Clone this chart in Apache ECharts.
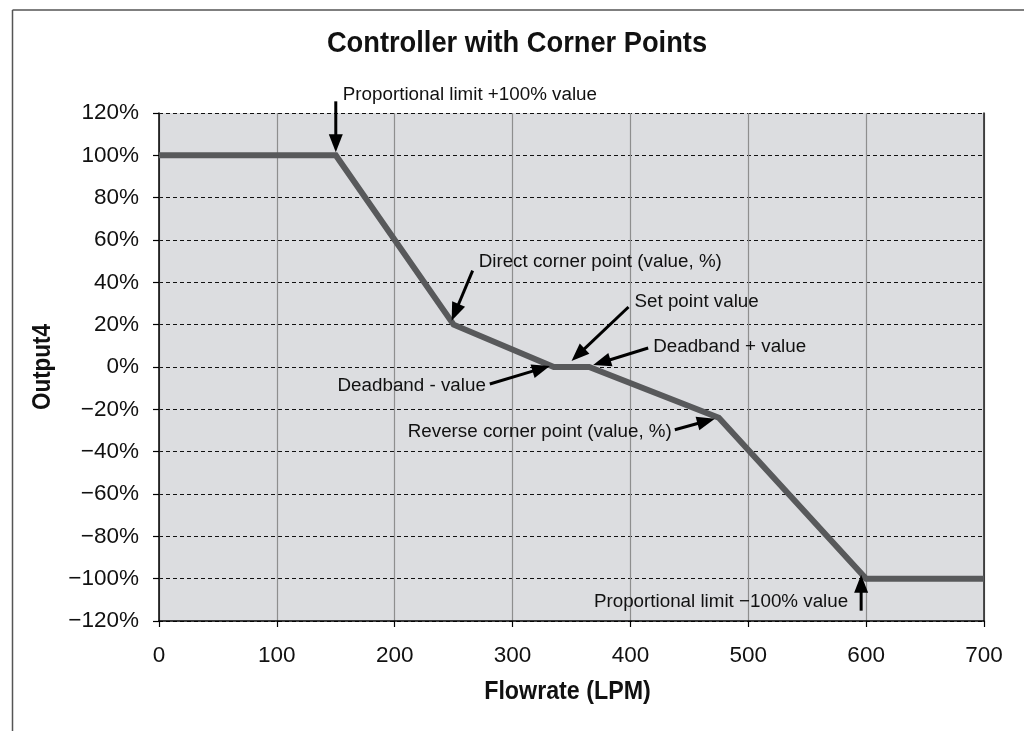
<!DOCTYPE html>
<html>
<head>
<meta charset="utf-8">
<script src="https://cdn.jsdelivr.net/npm/echarts@6/dist/echarts.min.js"></script>
<style>
  html, body { margin: 0; padding: 0; background: #fff; }
  #chart { width: 1024px; height: 731px; }
</style>
</head>
<body>
<div id="chart"></div>
<script>
// Controller characteristic: flow rate (LPM) vs. output (%)
const flowrate = [0, 150, 250, 335, 350, 365, 475, 600, 700];
const output   = [100, 100, 20, 0, 0, 0, -24, -100, -100];

// Axis ranges and ticks
const xTicks = [0, 100, 200, 300, 400, 500, 600, 700];
const yTicks = [-120, -100, -80, -60, -40, -20, 0, 20, 40, 60, 80, 100, 120];

// Headings
const titleText = 'Controller with Corner Points';
const xName = 'Flowrate (LPM)';
const yName = 'Output4';

// Callout texts and the curve point each one points at (index into the arrays above)
const noteTexts = [
  'Proportional limit +100% value',
  'Direct corner point (value, %)',
  'Set point value',
  'Deadband + value',
  'Deadband - value',
  'Reverse corner point (value, %)',
  'Proportional limit \u2212100% value'
];
const noteAnchors = [1, 2, 4, 5, 3, 6, 7];

const REGULAR = "'Liberation Sans', Arial, sans-serif";
const TITLE_FONT = "bold 29px 'Liberation Sans', Arial, sans-serif";   // squeezed with scaleX
const NAME_FONT = "bold 25px 'Liberation Sans', Arial, sans-serif";

const fmtPct = v => (v < 0 ? '\u2212' + Math.abs(v) : String(v)) + '%';

const chart = echarts.init(document.getElementById('chart'), null, { renderer: 'canvas' });

chart.setOption({
  animation: false,
  backgroundColor: '#ffffff',
  grid: {
    left: 159, right: 40, top: 113, bottom: 110,
    show: true, backgroundColor: '#dcdde0', borderWidth: 0
  },
  xAxis: {
    type: 'value',
    min: xTicks[0], max: xTicks[xTicks.length - 1], interval: 100,
    axisLine: { show: true, onZero: false, lineStyle: { color: '#000', width: 1.5 } },
    axisTick: { show: true, inside: false, length: 6, lineStyle: { color: '#000', width: 1.2 } },
    axisLabel: { fontFamily: REGULAR, fontSize: 22.5, color: '#111', margin: 23 },
    splitLine: { show: true, lineStyle: { color: '#8e8e8e', width: 1.2 } }
  },
  yAxis: [{
    type: 'value',
    min: yTicks[0], max: yTicks[yTicks.length - 1], interval: 20,
    axisLine: { show: true, onZero: false, lineStyle: { color: '#000', width: 1.5 } },
    axisTick: { show: true, inside: false, length: 6, lineStyle: { color: '#000', width: 1.2 } },
    axisLabel: { fontFamily: REGULAR, fontSize: 22.5, color: '#111', margin: 20, formatter: fmtPct },
    splitLine: { show: true, lineStyle: { color: '#111', width: 1, type: [4, 3] } }
  }, {
    type: 'value',
    position: 'right',
    min: yTicks[0], max: yTicks[yTicks.length - 1], interval: 20,
    axisLine: { show: true, onZero: false, lineStyle: { color: '#222', width: 1.5 } },
    axisTick: { show: false },
    axisLabel: { show: false },
    splitLine: { show: false }
  }],
  series: [{
    type: 'line',
    yAxisIndex: 0,
    data: flowrate.map((x, i) => [x, output[i]]),
    symbol: 'none',
    lineStyle: { color: '#58595b', width: 6, join: 'miter' },
    z: 3
  }]
});

// Callout layout in pixels relative to the anchored curve point:
// tip / tail of the arrow, text position and alignment
const noteLayout = [
  { tip: [0, -3],  tail: [0, -54],  text: [7, -61],   align: 'left' },
  { tip: [-2, -4], tail: [19, -54], text: [25, -63],  align: 'left' },
  { tip: [0, -6],  tail: [57, -60], text: [63, -65],  align: 'left' },
  { tip: [4, -2],  tail: [59, -19], text: [64, -20],  align: 'left' },
  { tip: [-4, -1], tail: [-64, 17], text: [-68, 19],  align: 'right' },
  { tip: [-4, 1],  tail: [-44, 12], text: [-47, 14],  align: 'right' },
  { tip: [-5, -4], tail: [-5, 32],  text: [-18, 23],  align: 'right' }
];

function arrow(tail, tip) {
  const headLen = 18, headW = 14, shaft = 3;
  const dx = tip[0] - tail[0], dy = tip[1] - tail[1];
  const len = Math.hypot(dx, dy);
  const ux = dx / len, uy = dy / len;
  const bx = tip[0] - ux * headLen, by = tip[1] - uy * headLen;
  const px = -uy * headW / 2, py = ux * headW / 2;
  return [
    { type: 'line', silent: true, z: 10,
      shape: { x1: tail[0], y1: tail[1], x2: bx + ux, y2: by + uy },
      style: { stroke: '#000', lineWidth: shaft } },
    { type: 'polygon', silent: true, z: 10,
      shape: { points: [[tip[0], tip[1]], [bx + px, by + py], [bx - px, by - py]] },
      style: { fill: '#000' } }
  ];
}

// plot-area corners for placing the headings
const pTL = chart.convertToPixel({ xAxisIndex: 0, yAxisIndex: 0 }, [xTicks[0], yTicks[yTicks.length - 1]]);
const pBR = chart.convertToPixel({ xAxisIndex: 0, yAxisIndex: 0 }, [xTicks[xTicks.length - 1], yTicks[0]]);
const midX = (pTL[0] + pBR[0]) / 2, midY = (pTL[1] + pBR[1]) / 2;

const graphics = [
  // outer frame (top and left edges)
  { type: 'line', silent: true, shape: { x1: 12.5, y1: 10, x2: 1024, y2: 10 }, style: { stroke: '#555', lineWidth: 1.5 } },
  { type: 'line', silent: true, shape: { x1: 12.5, y1: 10, x2: 12.5, y2: 731 }, style: { stroke: '#555', lineWidth: 1.5 } },
  // title
  { type: 'text', silent: true, x: 517, y: 44, scaleX: 0.94,
    style: { text: titleText, font: TITLE_FONT, fill: '#111', textAlign: 'center', textVerticalAlign: 'middle' } },
  // axis names
  { type: 'text', silent: true, x: midX - 4, y: pBR[1] + 71, scaleX: 0.93,
    style: { text: xName, font: NAME_FONT, fill: '#111', textAlign: 'center', textVerticalAlign: 'middle' } },
  { type: 'text', silent: true, x: pTL[0] - 116, y: midY, scaleX: 0.9, rotation: Math.PI / 2,
    style: { text: yName, font: NAME_FONT, fill: '#111', textAlign: 'center', textVerticalAlign: 'middle' } }
];

noteTexts.forEach((txt, k) => {
  const i = noteAnchors[k];
  const p = chart.convertToPixel({ xAxisIndex: 0, yAxisIndex: 0 }, [flowrate[i], output[i]]);
  const L = noteLayout[k];
  const tip = [p[0] + L.tip[0], p[1] + L.tip[1]];
  const tail = [p[0] + L.tail[0], p[1] + L.tail[1]];
  graphics.push(...arrow(tail, tip));
  graphics.push({
    type: 'text', silent: true, z: 11,
    x: p[0] + L.text[0], y: p[1] + L.text[1],
    style: {
      text: txt, fill: '#111',
      font: '18.8px ' + REGULAR,
      textAlign: L.align, textVerticalAlign: 'middle'
    }
  });
});

chart.setOption({ graphic: graphics });
</script>
</body>
</html>
